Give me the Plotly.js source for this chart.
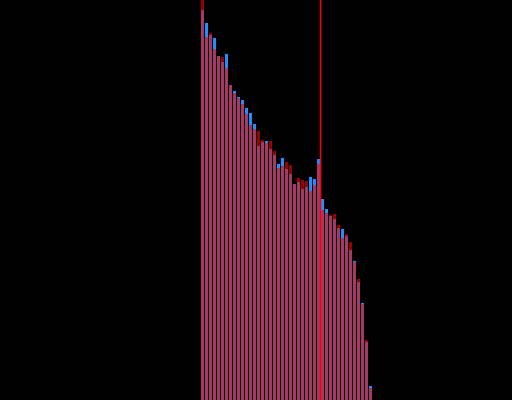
<!DOCTYPE html>
<html>
<head>
<meta charset="utf-8">
<script src="https://cdn.plot.ly/plotly-3.0.1.min.js"></script>
<style>
  html, body { margin: 0; padding: 0; background: #000; }
  #chart { width: 512px; height: 400px; }
</style>
</head>
<body>
<div id="chart"></div>
<script>
const bins = [0,1,2,3,4,5,6,7,8,9,10,11,12,13,14,15,16,17,18,19,20,21,22,23,24,25,26,27,28,29,30,31,32,33,34,35,36,37,38,39,40,41,42];
const seriesBlue = [390,377,365,362,344,338,346,315,309,303,300,292,287,276,254,258,259,251,245,236,242,231,226,216,218,211,213,223,221,241,201,191,184,181,172,171,164,150,139,118,97,58,14];
const seriesRed = [402,363,367,351,344,343,332,315,307,302,296,286,275,271,269,260,257,259,249,232,234,238,235,216,222,220,219,209,215,236,190,187,185,186,175,162,166,158,138,121,96,60,12];
const threshold = 29.5;

const traces = [
  { type: 'bar', x: bins, y: seriesBlue, marker: { color: '#1E90FF', line: { width: 0 } }, opacity: 1, hoverinfo: 'none' },
  { type: 'bar', x: bins, y: seriesRed, marker: { color: '#FF0000', line: { width: 0 } }, opacity: 0.6, hoverinfo: 'none' }
];

const layout = {
  width: 512, height: 400,
  margin: { l: 0, r: 0, t: 0, b: 0, pad: 0 },
  paper_bgcolor: '#000000', plot_bgcolor: '#000000',
  barmode: 'overlay', bargap: 0.25,
  showlegend: false,
  xaxis: { visible: false, range: [-50.625, 77.375], showgrid: false, zeroline: false },
  yaxis: { visible: false, range: [0, 400], showgrid: false, zeroline: false },
  shapes: [{ type: 'line', xref: 'x', yref: 'paper', x0: threshold, x1: threshold, y0: 0, y1: 1, line: { color: '#FF0000', width: 1.5 } }]
};

Plotly.newPlot('chart', traces, layout, { staticPlot: true, displayModeBar: false });
</script>
</body>
</html>
